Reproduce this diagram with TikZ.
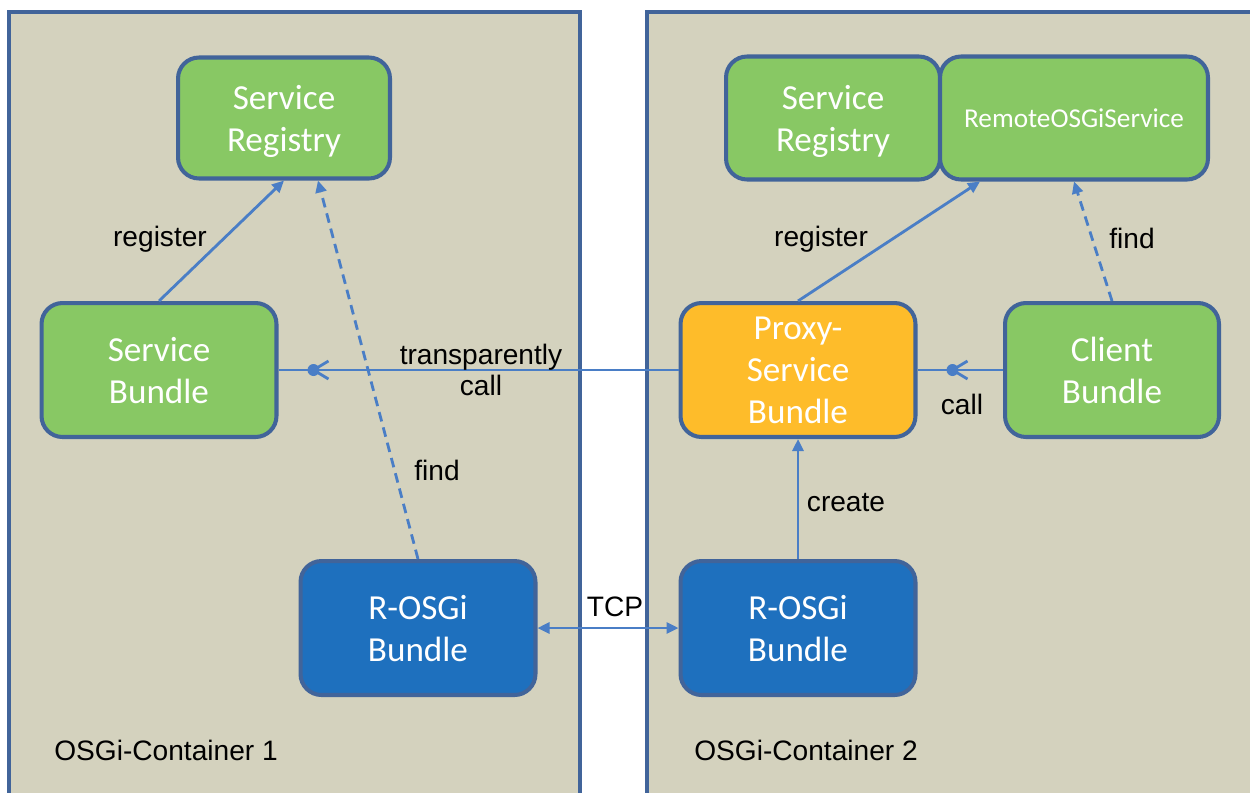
\documentclass[tikz,border=0pt]{standalone}
\usepackage{fontspec}
\setmainfont{Liberation Sans}
\newfontfamily\cajafont{Carlito}
\usetikzlibrary{arrows.meta,decorations.markings}

\definecolor{fondo}{RGB}{212,210,190}
\definecolor{borde}{RGB}{65,100,154}
\definecolor{verde}{RGB}{136,200,100}
\definecolor{naranja}{RGB}{254,188,42}
\definecolor{azul}{RGB}{30,112,190}
\definecolor{flecha}{RGB}{74,126,198}

\begin{document}
\begin{tikzpicture}[x=0.02cm, y=-0.02cm,
    caja/.style={draw=borde, line width=2.3pt, rounded corners=0.42cm, text=white, align=center,
        font=\cajafont\fontsize{20}{24}\selectfont, minimum width=4.7cm, minimum height=2.68cm,
        inner sep=0pt, text depth=0pt},
    flechas/.style={draw=flecha, line width=1.6pt, -{Triangle[length=0.24cm, width=0.22cm]}},
    punteada/.style={dash pattern=on 5.5pt off 3.5pt},
    etiqueta/.style={font=\fontsize{16}{18}\selectfont, text=black, align=center},
    llamada/.style={draw=flecha, line width=1.6pt, postaction={decorate, decoration={markings,
        mark=at position -0.7cm with {\fill[flecha] (0,0) circle (0.12cm);
            \draw[flecha, line width=1.6pt] (-0.3cm,0.18cm) -- (0,0) -- (-0.3cm,-0.18cm);}}}}
]
    \useasboundingbox (0,0) rectangle (1250,792);
    \clip (0,0) rectangle (1250,792);

    % Contenedores
    \draw[draw=borde, fill=fondo, line width=2.3pt] (9,12) rectangle (580,830);
    \draw[draw=borde, fill=fondo, line width=2.3pt] (647,12) rectangle (1290,830);

    % Cajas
    \node[caja, fill=verde, minimum width=4.24cm, minimum height=2.42cm] (SR1) at (284,118) {Service\\Registry};
    \node[caja, fill=verde, minimum width=4.28cm, minimum height=2.46cm] (SR2) at (833,118) {Service\\Registry};
    \node[caja, fill=verde, minimum width=5.36cm, minimum height=2.46cm,
        font=\cajafont\fontsize{15.5}{18}\selectfont] (ROS) at (1074,118) {RemoteOSGiService};
    \node[caja, fill=verde] (SB) at (159,370) {Service\\Bundle};
    \node[caja, fill=naranja] (PSB) at (798,370) {Proxy-\\Service\\Bundle};
    \node[caja, fill=verde, minimum width=4.28cm] (CB) at (1112,370) {Client\\Bundle};
    \node[caja, fill=azul] (ROB1) at (418,628) {R-OSGi\\Bundle};
    \node[caja, fill=azul] (ROB2) at (798,628) {R-OSGi\\Bundle};

    % Flechas
    \draw[flechas] (SB.north) -- (SR1.south);
    \draw[flechas, punteada] (ROB1.north) -- ([xshift=0.68cm]SR1.south);
    \draw[flechas] (PSB.north) -- ([xshift=-1.88cm]ROS.south);
    \draw[flechas, punteada] (CB.north) -- (ROS.south);
    \draw[flechas] (ROB2.north) -- (PSB.south);
    \draw[llamada] (PSB.west) -- (SB.east);
    \draw[llamada] (CB.west) -- (PSB.east);
    \draw[draw=flecha, line width=1.6pt, {Triangle[length=0.24cm, width=0.22cm]}-{Triangle[length=0.24cm, width=0.22cm]}] (ROB1.east) -- (ROB2.west);

    % Etiquetas
    \node[etiqueta] (lblReg1) at (160,239) {register};
    \node[etiqueta] (lblFind1) at (437,470) {find};
    \node[etiqueta] (lblTrans) at (481,370) {transparently\\call};
    \node[etiqueta] (lblReg2) at (821,239) {register};
    \node[etiqueta] (lblFind2) at (1132,238) {find};
    \node[etiqueta] (lblCall) at (962,404) {call};
    \node[etiqueta] (lblCreate) at (846,503) {create};
    \node[etiqueta] (lblTCP) at (615,607) {TCP};
    \node[etiqueta] (lblCont1) at (166,750) {OSGi-Container 1};
    \node[etiqueta] (lblCont2) at (806,750) {OSGi-Container 2};
\end{tikzpicture}
\end{document}
